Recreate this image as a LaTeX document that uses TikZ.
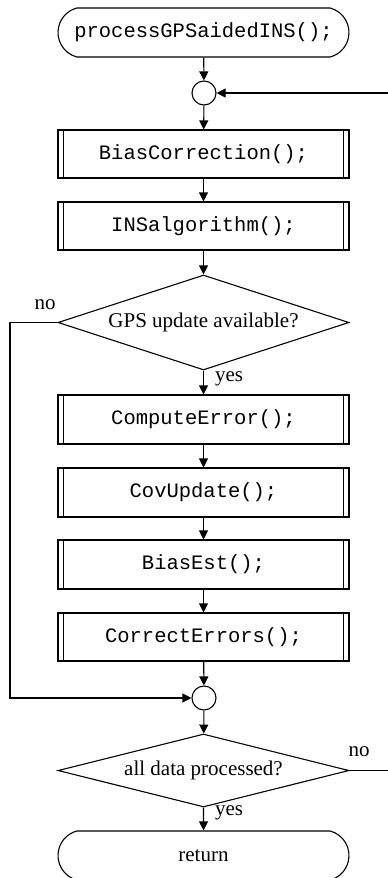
\documentclass[tikz,border=0pt]{standalone}
\usepackage{fontspec}
\setmainfont{Liberation Serif}
\setmonofont{Liberation Mono}
\usetikzlibrary{shapes.geometric,shapes.misc,arrows.meta}
\tikzset{
  base/.style={draw, line width=1.1pt, inner sep=0pt, font=\fontsize{21}{25}\selectfont},
  terminal/.style={base, rounded rectangle, rounded rectangle arc length=150,
    minimum width=291pt, minimum height=49pt},
  subproc/.style={base, rectangle, minimum width=291pt, minimum height=48pt,
    font=\ttfamily\fontsize{20.5}{25}\selectfont},
  decision/.style={base, diamond, minimum width=291pt},
  junction/.style={base, circle, minimum size=24pt},
  lbl/.style={inner sep=0pt, font=\fontsize{21}{25}\selectfont},
  flow/.style={line width=1.1pt, -{Triangle[length=9pt,width=9pt]}},
  plain/.style={line width=1.1pt},
}
\newcommand{\sidebars}[1]{%
  \draw[plain] ([xshift=6pt]#1.north west) -- ([xshift=6pt]#1.south west);
  \draw[plain] ([xshift=-6pt]#1.north east) -- ([xshift=-6pt]#1.south east);}
\begin{document}
\begin{tikzpicture}[x=1pt,y=-1pt]
\useasboundingbox (0,0) rectangle (388,878);
\clip (0,0) rectangle (388,878);

% main column
\node[terminal, font=\ttfamily\fontsize{20.5}{25}\selectfont] (start) at (203.5,32.5) {processGPSaidedINS();};
\node[junction] (j1) at (204,93) {};
\node[subproc] (bc) at (203.5,154) {BiasCorrection();};
\node[subproc] (ins) at (203.5,226) {INSalgorithm();};
\node[decision, minimum height=95pt, aspect=3.06] (d1) at (203.5,322.5) {GPS update available?};
\node[subproc, minimum height=49pt] (ce) at (203.5,419.5) {ComputeError();};
\node[subproc, minimum height=49pt] (cu) at (203.5,492.5) {CovUpdate();};
\node[subproc, minimum height=49pt] (be) at (203.5,564.5) {BiasEst();};
\node[subproc] (cr) at (203.5,637) {CorrectErrors();};
\node[junction] (j2) at (204,698) {};
\node[decision, minimum height=73pt, aspect=3.97] (d2) at (203.5,770.5) {all data processed?};
\node[terminal] (ret) at (203.5,855.5) {return};

\foreach \n in {bc,ins,ce,cu,be,cr} {\sidebars{\n}}

% branch labels
\node[lbl] (no1) at (45,305) {no};
\node[lbl] (yes1) at (229,379) {yes};
\node[lbl] (no2) at (359,752) {no};
\node[lbl] (yes2) at (229,813) {yes};

% guide coordinates for the side loops
\coordinate (lx) at (10,0);
\coordinate (rx) at (390,0);

% connectors
\draw[flow] (start) -- (j1);
\draw[flow] (j1) -- (bc);
\draw[flow] (bc) -- (ins);
\draw[flow] (ins) -- (d1);
\draw[flow] (d1) -- (ce);
\draw[flow] (ce) -- (cu);
\draw[flow] (cu) -- (be);
\draw[flow] (be) -- (cr);
\draw[flow] (cr) -- (j2);
\draw[flow] (j2) -- (d2);
\draw[flow] (d2) -- (ret);
\draw[flow] (d1.west) -- (d1.west -| lx) |- (j2.west);
\draw[plain] (d2.east) -- (d2.east -| rx);
\draw[flow] (j1.east -| rx) -- (j1.east);
\end{tikzpicture}
\end{document}
